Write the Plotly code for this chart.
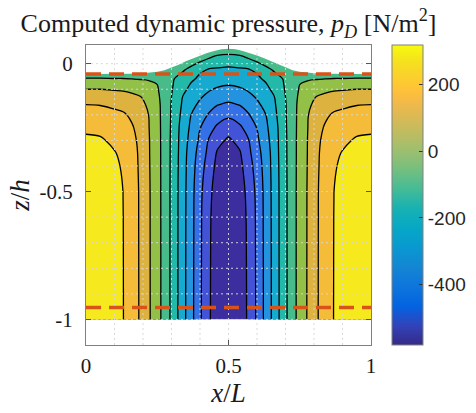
import plotly.graph_objects as go

# ---------------- data ----------------
# x/L sample columns (left half; right half is the mirror image)
x_half = [0.00, 0.05, 0.10, 0.13, 0.16, 0.19, 0.22, 0.25, 0.28, 0.31, 0.34, 0.37, 0.40, 0.43, 0.46, 0.50]
# z/h sample rows
z_rows = [0.08, 0.06, 0.04, 0.02, 0.00, -0.02, -0.04, -0.06, -0.08, -0.10, -0.13, -0.16,
          -0.20, -0.25, -0.30, -0.35, -0.40, -0.50, -0.60, -0.80, -1.00]
# dynamic pressure p_D [N/m^2] per column (top row first)
p_x000 = [-45, -45, -45, -45, -45, -45, -40, -3.8, 34.1, 72, 112.8, 153.5, 183.1, 220.2, 248.8, 271.9, 295, 305, 311.2, 316, 317]
p_x005 = [-45, -45, -45, -45, -45, -45, -40, -3.8, 34.1, 72, 111.4, 150.9, 179.7, 214.3, 244.2, 267.1, 290, 300.7, 307.4, 313, 315]
p_x010 = [-45, -45, -45, -45, -45, -45, -40, -5.9, 30.3, 66.6, 104.8, 141.3, 168.8, 194.2, 219.7, 239.5, 250.8, 266.3, 275, 280, 282]
p_x013 = [-45, -45, -45, -45, -45, -45, -40, -6.0, 28.6, 63.3, 99.2, 131.8, 162.9, 186.5, 210, 218, 226, 234.7, 236, 236.5, 237]
p_x016 = [-45, -45, -45, -45, -45, -45, -40, -9.0, 23.1, 55.7, 87.5, 110.8, 141.8, 161.7, 173.3, 185, 187.3, 192, 192.5, 193.5, 194]
p_x019 = [-45, -45, -45, -45, -45, -45, -37.5, -12, 13.8, 39.7, 75.2, 94.4, 120, 129, 138, 140, 142, 145, 145.3, 145.7, 146]
p_x022 = [-45, -45, -45, -45, -45, -45, -35.9, -15.6, 4.6, 24.8, 48.4, 58.5, 71.5, 75, 78, 79, 80, 82, 82.3, 82.7, 83]
p_x025 = [-48, -48, -48, -48, -48, -48, -38.3, -24, -10, -3.9, 4.4, 11, 13.5, 15.5, 17, 17.5, 18, 19, 19.3, 19.7, 20]
p_x028 = [-50, -50, -50, -50, -50, -50, -47, -47.5, -48, -48.5, -49, -49, -49.5, -50, -50, -50, -50, -50, -50, -50, -50]
p_x031 = [-50, -50, -50, -50, -50, -56.3, -73.7, -91.5, -97, -103, -112, -118.8, -122, -126, -130, -131, -132, -134, -134.3, -134.7, -135]
p_x034 = [-52, -52, -52, -52, -56, -79.3, -100.1, -118.2, -136.3, -154.4, -175.4, -184, -195.6, -210, -214, -218, -222, -224, -225, -225.5, -226]
p_x037 = [-55, -55, -55, -57, -78.2, -104.8, -132.4, -160.1, -179.8, -193, -212.9, -232.8, -256.3, -270.9, -285.4, -300, -303, -309, -310, -311.2, -312]
p_x040 = [-56, -58, -60, -73.6, -100.1, -136.3, -172.9, -189, -205.4, -221.9, -246.6, -268.4, -298, -333, -350, -365, -380, -397.3, -402, -403.5, -405]
p_x043 = [-58, -61, -69.4, -91.4, -131.8, -172.9, -190.6, -208.7, -226.8, -244.9, -273.6, -303.1, -341.6, -385.4, -421.5, -437.7, -453.8, -474, -481, -484, -485]
p_x046 = [-58, -61, -79.2, -109.1, -145.3, -177.7, -198.6, -219.5, -240.4, -262.2, -297.1, -332, -376.8, -429.8, -475.6, -505.2, -518.6, -535.7, -543, -546, -548]
p_x050 = [-60, -63, -85.6, -118.2, -154.4, -183.4, -205.1, -226.8, -248.6, -272.8, -310.4, -348, -398.2, -468.9, -509.9, -528.9, -548, -561, -570, -575, -578]

# free surface elevation (left half, mirrored)
surf_x_half = [0.00, 0.05, 0.10, 0.15, 0.20, 0.25, 0.275, 0.30, 0.325, 0.35, 0.375, 0.40, 0.425, 0.45, 0.475, 0.50]
surf_z_half = [-0.040, -0.040, -0.040, -0.039, -0.037, -0.032, -0.026, -0.016, -0.004, 0.009, 0.021, 0.032, 0.042, 0.050, 0.056, 0.058]

# red dashed reference levels
dashed_z = [-0.040, -0.953]

# contour levels and colour limits
level_start, level_step, n_levels = -498.5, 81.5, 10
c_min, c_max = -580, 317
cbar_ticks = [-400, -200, 0, 200]

# ---------------- build the table ----------------
p_half = [p_x000, p_x005, p_x010, p_x013, p_x016, p_x019, p_x022, p_x025, p_x028,
          p_x031, p_x034, p_x037, p_x040, p_x043, p_x046, p_x050]
cols = p_half + p_half[-2::-1]
x_full = x_half + [round(1 - v, 4) for v in x_half[-2::-1]]
Z = [[cols[j][i] for j in range(len(cols))] for i in range(len(z_rows))]

surf_x = surf_x_half + [round(1 - v, 4) for v in surf_x_half[-2::-1]]
surf_z = surf_z_half + surf_z_half[-2::-1]

parula_rows = [
    (1, (0.2081, 0.1663, 0.5292)), (5, (0.1959, 0.2645, 0.7279)), (9, (0.0117, 0.3875, 0.8820)),
    (13, (0.0498, 0.4586, 0.8641)), (17, (0.0793, 0.5200, 0.8312)), (21, (0.0343, 0.5966, 0.8199)),
    (25, (0.0228, 0.6535, 0.7768)), (29, (0.0843, 0.6928, 0.7062)), (33, (0.2586, 0.7317, 0.5954)),
    (37, (0.4420, 0.7481, 0.5033)), (41, (0.6099, 0.7473, 0.4337)), (45, (0.7525, 0.7384, 0.3768)),
    (49, (0.8824, 0.7274, 0.3217)), (51, (0.9450, 0.7261, 0.2886)), (53, (0.9938, 0.7455, 0.2403)),
    (54, (0.9990, 0.7653, 0.2164)), (56, (0.9880, 0.8066, 0.1794)), (58, (0.9697, 0.8481, 0.1475)),
    (60, (0.9589, 0.8949, 0.1132)), (62, (0.9661, 0.9514, 0.0755)), (63, (0.9763, 0.9831, 0.0538)),
]
parula = [[(r - 1) / 62, 'rgb(%d,%d,%d)' % tuple(round(255 * c) for c in col)] for r, col in parula_rows]

band_colors = ['#3C2E9E', '#4253D8', '#3470E8', '#2392DF', '#16AAD0', '#22B9A8',
               '#47BC8A', '#93C046', '#DDB23E', '#F5BC3A', '#F6EA1E']
band_scale = [[k / (len(band_colors) - 1), c] for k, c in enumerate(band_colors)]

fig = go.Figure()

fig.add_trace(go.Contour(
    x=x_full, y=z_rows, z=Z,
    autocontour=False,
    contours=dict(start=level_start, end=level_start + level_step * (n_levels - 1) + 0.01,
                  size=level_step, coloring='fill'),
    colorscale=band_scale, showscale=False,
    line=dict(color='black', width=1.3), hoverinfo='skip'))

# white area above the free surface
fig.add_trace(go.Scatter(x=surf_x + [1, 0], y=surf_z + [0.3, 0.3], fill='toself',
                         fillcolor='white', mode='lines', line=dict(width=0, color='white'),
                         hoverinfo='skip', showlegend=False))

# dotted grid (drawn on top of the fill)
gx, gy = [], []
for k in range(1, 10):
    gx += [k / 10, k / 10, None]
    gy += [-1.1, 0.073, None]
for k in range(0, 11):
    gx += [0, 1, None]
    gy += [-k / 10, -k / 10, None]
fig.add_trace(go.Scatter(x=gx, y=gy, mode='lines', hoverinfo='skip', showlegend=False,
                         line=dict(color='rgba(215,215,215,0.95)', width=1, dash='2px,3px')))

# red dashed levels
for zl in dashed_z:
    fig.add_trace(go.Scatter(x=[0, 1], y=[zl, zl], mode='lines', showlegend=False, hoverinfo='skip',
                             line=dict(color='#D95319', width=3.5, dash='15px,8px')))

# continuous colour bar
fig.add_trace(go.Scatter(
    x=[0.5], y=[5], mode='markers', showlegend=False, hoverinfo='skip',
    marker=dict(size=1, opacity=0, color=[0], cmin=c_min, cmax=c_max, colorscale=parula,
                showscale=True,
                colorbar=dict(x=1.0737, xanchor='left', xref='paper', y=0, yanchor='bottom',
                              len=1, lenmode='fraction', thickness=31, xpad=0, ypad=0,
                              outlinewidth=1, outlinecolor='#808080',
                              ticks='inside', ticklen=4, tickcolor='#333', tickwidth=1,
                              tickvals=cbar_ticks, ticktext=[str(v) for v in cbar_ticks],
                              tickfont=dict(family='Liberation Sans', size=19, color='#262626')))))

serif = 'Liberation Serif'
fig.update_layout(
    width=476, height=413,
    margin=dict(l=86, r=105, t=45, b=68, autoexpand=False),
    paper_bgcolor='white', plot_bgcolor='white',
    showlegend=False,
    title=dict(text='Computed dynamic pressure, <i>p</i><sub><i>D</i></sub> [N/m<sup>2</sup>]',
               x=0.5, xref='paper', xanchor='center', y=1 - 23 / 413, yref='container', yanchor='middle',
               font=dict(family=serif, size=26, color='#1a1a1a')),
    xaxis=dict(range=[0, 1], tickvals=[0, 0.5, 1], ticktext=['0', '0.5', '1'],
               ticks='inside', ticklen=5, tickcolor='#555', showline=True, mirror='ticks',
               linecolor='#808080', linewidth=1, showgrid=False, zeroline=False,
               ticklabelstandoff=2,
               tickfont=dict(family=serif, size=21, color='#1a1a1a'),
               title=dict(text='<i>x</i>/<i>L</i>', standoff=4,
                          font=dict(family=serif, size=27, color='#1a1a1a'))),
    yaxis=dict(range=[-1.1, 0.073], tickvals=[-1, -0.5, 0], ticktext=['-1', '-0.5', '0'],
               ticks='inside', ticklen=5, tickcolor='#555', showline=True, mirror='ticks',
               linecolor='#808080', linewidth=1, showgrid=False, zeroline=False,
               ticklabelstandoff=8,
               tickfont=dict(family=serif, size=21, color='#1a1a1a'),
               title=dict(text='<i>z</i>/<i>h</i>', standoff=2,
                          font=dict(family=serif, size=27, color='#1a1a1a'))),
)

fig.write_html('out.html')
